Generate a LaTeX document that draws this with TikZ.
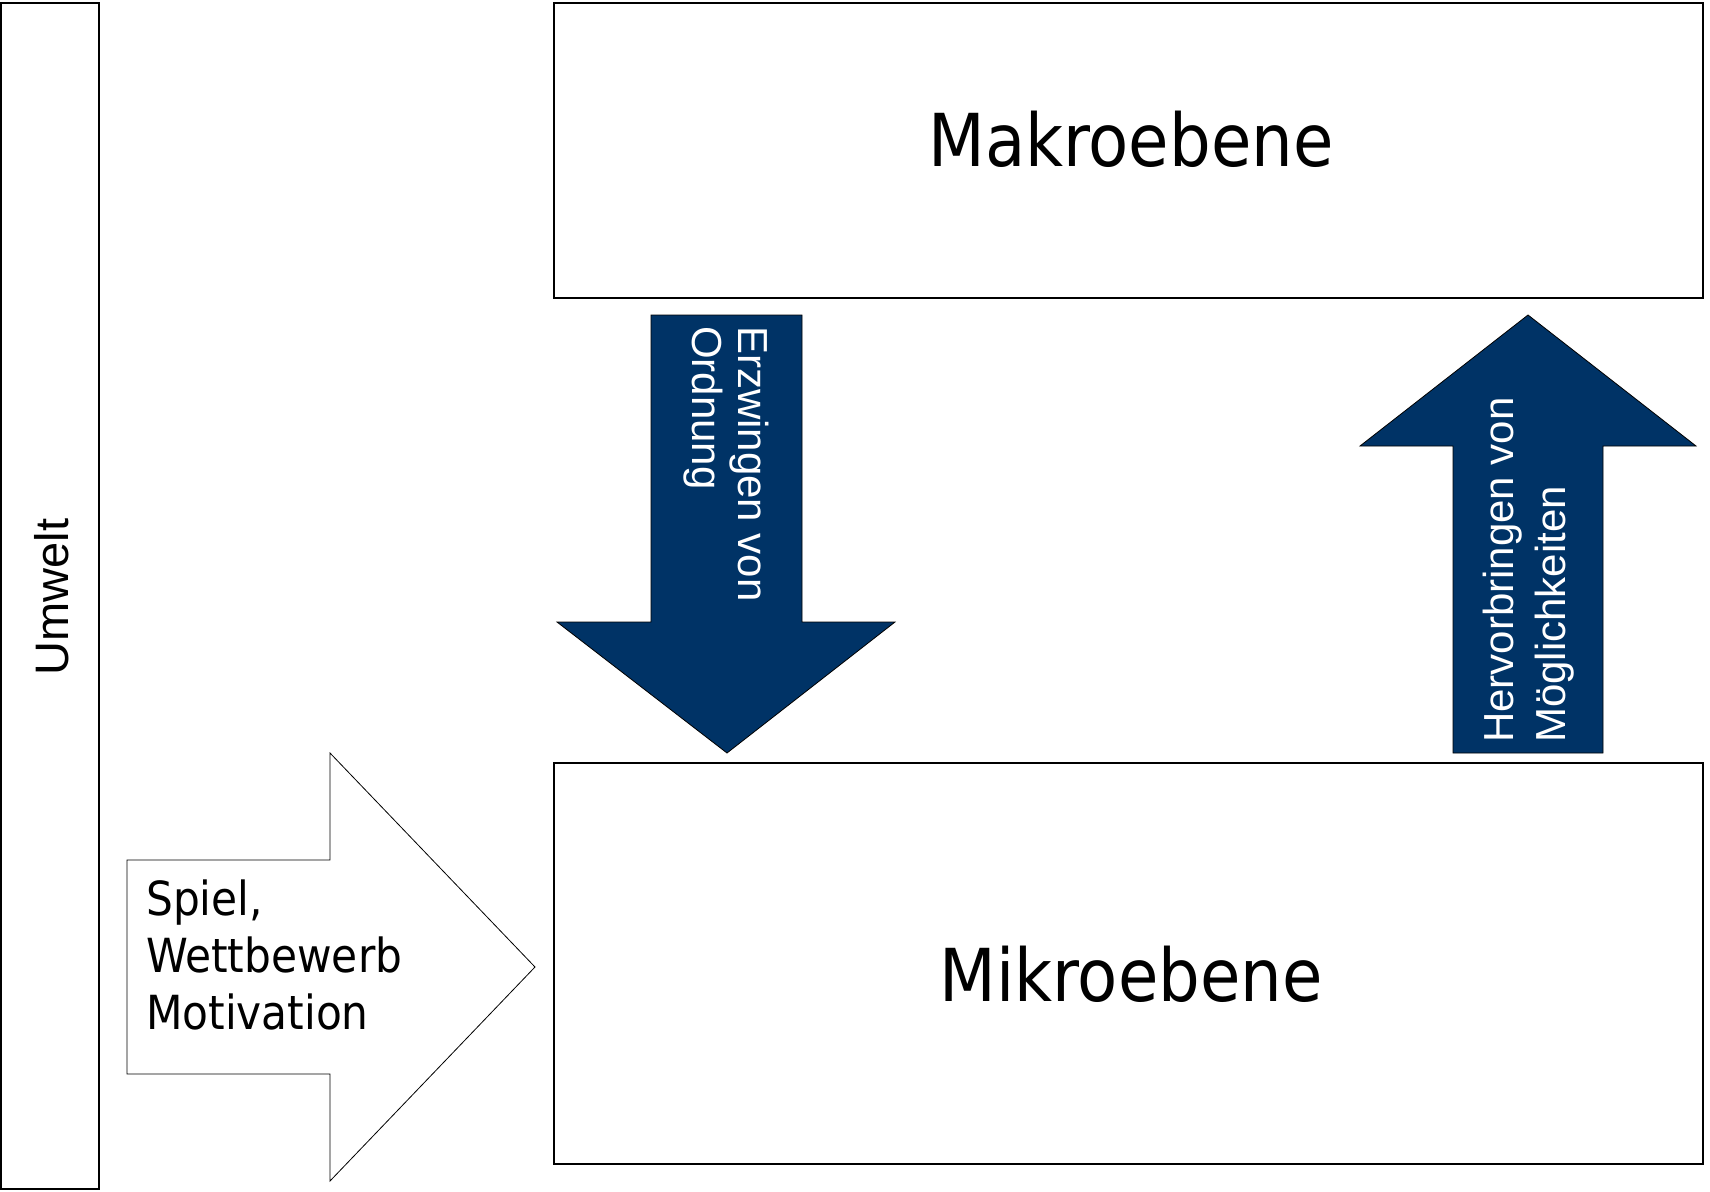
\documentclass[tikz,border=0pt]{standalone}
\usepackage{fontspec}
\newfontfamily\tah{DejaVu Sans Condensed}
\newfontfamily\ari{Liberation Sans}
\definecolor{navy}{RGB}{0,51,102}
\tikzset{
  box/.style={draw=black, line width=1.1pt, fill=white},
  darrow/.style={draw=black, line width=0.8pt, fill=navy},
  warrow/.style={draw=black, line width=0.8pt, fill=white},
  arrtext/.style={text=white, inner sep=0pt, align=left, font=\ari\fontsize{42}{46}\selectfont},
}
\begin{document}
\begin{tikzpicture}[x=1pt,y=-1pt]
\useasboundingbox (0,0) rectangle (1710,1191);
% boxes
\node[box, minimum width=98pt, minimum height=1186pt, inner sep=0pt] (umwelt) at (50,596) {};
\node[box, minimum width=1149pt, minimum height=295pt, inner sep=0pt] (makro) at (1128.5,150.5) {};
\node[box, minimum width=1149pt, minimum height=401pt, inner sep=0pt] (mikro) at (1128.5,963.5) {};
% box labels
\node[inner sep=0pt, anchor=base, font=\tah\fontsize{73}{88}\selectfont] (makrot) at (1131,166) {Makroebene};
\node[inner sep=0pt, anchor=base, font=\tah\fontsize{73}{88}\selectfont] (mikrot) at (1131,1001) {Mikroebene};
\node[inner sep=0pt, anchor=base, rotate=90, font=\ari\fontsize{47}{56}\selectfont] (umweltt) at (68,597) {Umwelt};
% down arrow
\draw[darrow] (651,315) -- (802,315) -- (802,622) -- (895,622) -- (727,753) -- (557,622) -- (651,622) -- cycle;
\node[arrtext, rotate=-90, anchor=north west] (erzw) at (769,326) {Erzwingen von\\Ordnung};
% up arrow
\draw[darrow] (1528,315) -- (1696,446) -- (1603,446) -- (1603,753) -- (1453,753) -- (1453,446) -- (1360,446) -- cycle;
\node[arrtext, rotate=90, anchor=north west, font=\ari\fontsize{42}{52}\selectfont] (herv) at (1483,743) {Hervorbringen von\\Möglichkeiten};
% right arrow
\draw[warrow] (127,860) -- (330,860) -- (330,753) -- (535,967) -- (330,1181) -- (330,1074) -- (127,1074) -- cycle;
\node[inner sep=0pt, anchor=north west, align=left, font=\tah\fontsize{47}{57}\selectfont] (spiel) at (146,880) {Spiel,\\Wettbewerb\\Motivation};
\end{tikzpicture}
\end{document}
